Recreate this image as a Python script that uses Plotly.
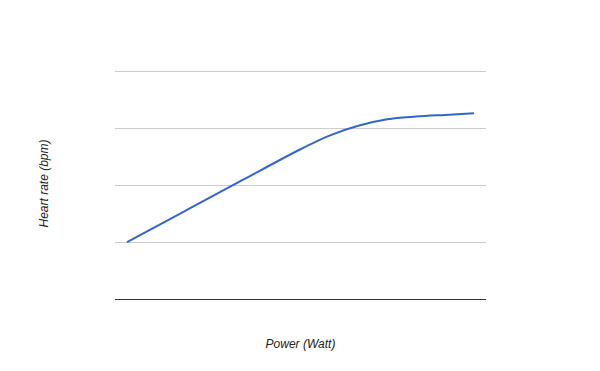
import plotly.graph_objects as go

power_watt = [0, 50, 100, 150, 175, 200, 225, 250, 275, 300]
heart_rate_bpm = [50, 77.3, 104.6, 131.6, 143.6, 152.2, 157.9, 160.3, 161.8, 163.2]
y_ticks = [0, 50, 100, 150, 200]

fig = go.Figure()
fig.add_trace(go.Scatter(
    x=power_watt, y=heart_rate_bpm, mode="lines",
    line=dict(color="#3366cc", width=2, shape="spline", smoothing=1.0),
    hoverinfo="x+y", showlegend=False,
))

font_family = "Liberation Sans, Arial, sans-serif"
fig.update_layout(
    width=600, height=371,
    margin=dict(l=107, r=122, t=60, b=80),
    paper_bgcolor="white", plot_bgcolor="white",
    font=dict(family=font_family, size=12, color="#222222"),
    xaxis=dict(
        range=[-10.4, 310.4], showgrid=False, zeroline=False,
        showticklabels=False, ticks="",
        showline=True, linecolor="#333333", linewidth=1,
        title=dict(text="<i>Power (Watt)</i>", standoff=40,
                   font=dict(family=font_family, size=12, color="#222222")),
    ),
    yaxis=dict(
        range=[0, 203], tickvals=y_ticks, showticklabels=False, ticks="",
        showgrid=True, gridcolor="#cccccc", gridwidth=1, zeroline=False,
        title=dict(text="<i>Heart rate (bpm)</i>", standoff=62,
                   font=dict(family=font_family, size=12, color="#222222")),
    ),
)

fig.write_html("out.html")
